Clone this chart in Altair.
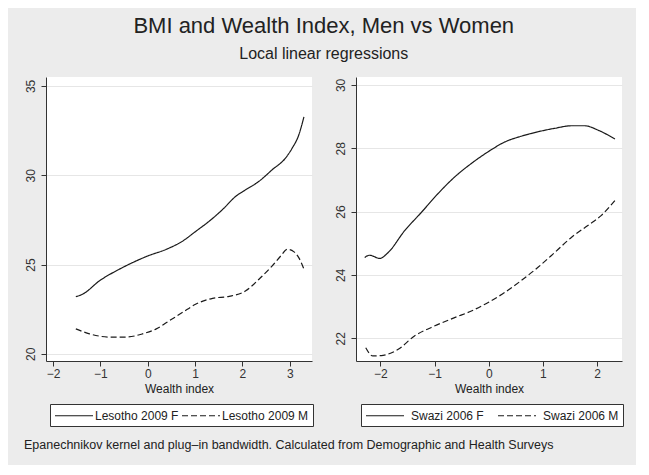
import altair as alt
import pandas as pd

# ---- data ----
les_f_x = [-1.52, -1.37, -1.02, -0.60, -0.32, 0.00, 0.39, 0.74, 1.02, 1.30, 1.58, 1.86, 2.07, 2.35, 2.63, 2.91, 3.05, 3.19, 3.30]
les_f_y = [23.20, 23.35, 24.09, 24.74, 25.11, 25.48, 25.85, 26.32, 26.87, 27.43, 28.08, 28.82, 29.19, 29.66, 30.31, 30.96, 31.51, 32.25, 33.27]
les_m_x = [-1.52, -1.23, -0.81, -0.46, -0.11, 0.18, 0.46, 0.74, 1.02, 1.37, 1.72, 2.07, 2.35, 2.63, 2.81, 2.95, 3.09, 3.19, 3.30]
les_m_y = [21.40, 21.12, 20.94, 20.94, 21.12, 21.40, 21.86, 22.33, 22.79, 23.11, 23.22, 23.53, 24.18, 24.93, 25.48, 25.85, 25.71, 25.39, 24.74]

swz_f_x = [-2.29, -2.20, -2.01, -1.86, -1.55, -1.24, -0.94, -0.63, -0.32, -0.01, 0.30, 0.60, 0.91, 1.22, 1.53, 1.77, 2.02, 2.33]
swz_f_y = [24.55, 24.62, 24.52, 24.70, 25.40, 25.98, 26.56, 27.09, 27.52, 27.89, 28.20, 28.38, 28.52, 28.63, 28.71, 28.71, 28.57, 28.29]
swz_m_x = [-2.27, -2.14, -1.95, -1.67, -1.37, -1.06, -0.63, -0.32, -0.01, 0.30, 0.60, 0.91, 1.22, 1.53, 1.83, 2.08, 2.33]
swz_m_y = [21.70, 21.44, 21.46, 21.65, 22.07, 22.34, 22.65, 22.86, 23.13, 23.45, 23.82, 24.24, 24.71, 25.19, 25.56, 25.88, 26.35]

les_labels = ["Lesotho 2009 F", "Lesotho 2009 M"]
swz_labels = ["Swazi 2006 F", "Swazi 2006 M"]

les_xticks = [-2, -1, 0, 1, 2, 3]
les_yticks = [20, 25, 30, 35]
swz_xticks = [-2, -1, 0, 1, 2]
swz_yticks = [22, 24, 26, 28, 30]

title_text = "BMI and Wealth Index, Men vs Women"
subtitle_text = "Local linear regressions"
note_text = "Epanechnikov kernel and plug\u2013in bandwidth. Calculated from Demographic and Health Surveys"

FONT = "Liberation Sans"
INK = "#1a1a1a"
# legend key: a 38px horizontal stroke drawn from a 13px symbol box
KEY_PATH = "M-1,0H4.85"
KEY_SIZE = 169


def frame(xs_f, ys_f, xs_m, ys_m, labels):
    rows = []
    for x, y in zip(xs_f, ys_f):
        rows.append({"x": x, "bmi": y, "series": labels[0]})
    for x, y in zip(xs_m, ys_m):
        rows.append({"x": x, "bmi": y, "series": labels[1]})
    return pd.DataFrame(rows)


def panel(df, labels, xdom, ydom, xticks, yticks, legx, colpad, laboff):
    return alt.Chart(df).mark_line(
        strokeWidth=1.2, color=INK, interpolate="monotone", clip=True
    ).encode(
        x=alt.X("x:Q", scale=alt.Scale(domain=xdom, nice=False, zero=False),
                axis=alt.Axis(values=xticks, title="Wealth index", grid=False,
                              format="d", tickSize=5, labelPadding=2, titlePadding=4)),
        y=alt.Y("bmi:Q", scale=alt.Scale(domain=ydom, nice=False, zero=False),
                axis=alt.Axis(values=yticks, title=None, grid=True, format="d",
                              labelAngle=270, labelAlign="center", labelBaseline="bottom",
                              tickSize=5, labelPadding=4)),
        strokeDash=alt.StrokeDash(
            "series:N",
            scale=alt.Scale(domain=labels, range=[[1, 0], [6, 3]]),
            legend=alt.Legend(title=None, orient="none", legendX=legx, legendY=327,
                              direction="horizontal", fillColor="white",
                              strokeColor="#333333", padding=4,
                              columnPadding=colpad, labelOffset=laboff,
                              symbolType=KEY_PATH, symbolSize=KEY_SIZE,
                              symbolFillColor="transparent",
                              symbolStrokeColor=INK, symbolStrokeWidth=1.2),
        ),
        detail="series:N",
    ).properties(width=266, height=284)


left = panel(frame(les_f_x, les_f_y, les_m_x, les_m_y, les_labels), les_labels,
             [-2.15, 3.47], [19.6, 35.5], les_xticks, les_yticks, 4, 0, 26)
right = panel(frame(swz_f_x, swz_f_y, swz_m_x, swz_m_y, swz_labels), swz_labels,
              [-2.45, 2.46], [21.28, 30.25], swz_xticks, swz_yticks, 5, 11, 31)

inner = alt.hconcat(left, right, spacing=44, bounds="flush").resolve_scale(
    strokeDash="independent"
).resolve_legend(strokeDash="independent").properties(
    title=alt.TitleParams(note_text, orient="bottom", anchor="start", fontSize=12.5,
                          fontWeight="normal", font=FONT, color="#222222", offset=12)
)

chart = alt.vconcat(inner).properties(
    title=alt.TitleParams(title_text, subtitle=subtitle_text, anchor="middle",
                          fontSize=22, subtitleFontSize=16, fontWeight="normal",
                          font=FONT, subtitleFont=FONT, color="#222222",
                          subtitleColor="#222222", subtitlePadding=8, offset=14),
    background="#ececec",
    padding={"left": 15, "top": 7, "right": 12, "bottom": 14},
).configure_view(
    fill="white", stroke=None
).configure_axis(
    domainColor="#333333", tickColor="#333333", labelColor="#333333",
    titleColor="#222222", labelFont=FONT, titleFont=FONT, labelFontSize=12,
    titleFontSize=12, titleFontWeight="normal", gridColor="#e6e6e6", gridWidth=1,
    domainWidth=1, tickWidth=1
).configure_legend(
    labelFont=FONT, labelFontSize=12, labelColor="#222222"
)

chart.save("out.html", embed_options={"renderer": "svg", "actions": False})
